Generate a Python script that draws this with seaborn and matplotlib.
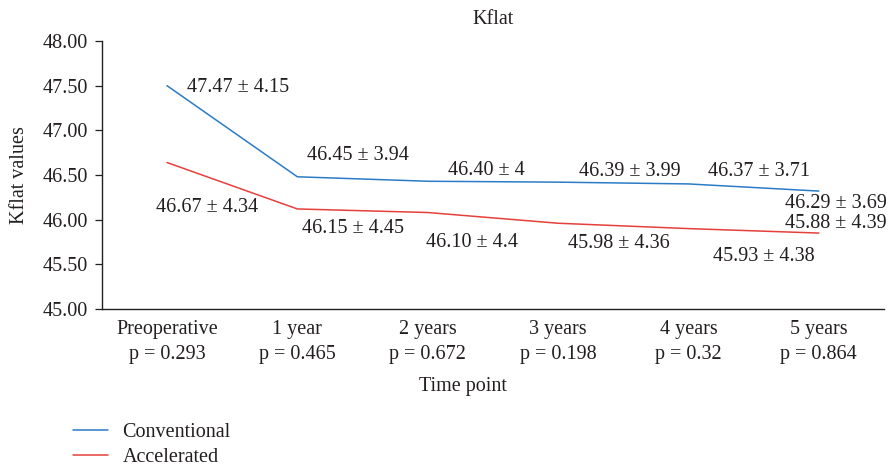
import matplotlib
matplotlib.use("Agg")
import matplotlib.pyplot as plt
import seaborn as sns
import pandas as pd

# ---- data ----
time_points = ["Preoperative", "1 year", "2 years", "3 years", "4 years", "5 years"]
p_values = ["p = 0.293", "p = 0.465", "p = 0.672", "p = 0.198", "p = 0.32", "p = 0.864"]
conventional = [47.50, 46.48, 46.43, 46.42, 46.40, 46.32]
accelerated = [46.64, 46.12, 46.08, 45.96, 45.90, 45.85]
conventional_labels = ["47.47 ± 4.15", "46.45 ± 3.94", "46.40 ± 4", "46.39 ± 3.99",
                       "46.37 ± 3.71", "46.29 ± 3.69"]
accelerated_labels = ["46.67 ± 4.34", "46.15 ± 4.45", "46.10 ± 4.4", "45.98 ± 4.36",
                      "45.93 ± 4.38", "45.88 ± 4.39"]
series_names = ["Conventional", "Accelerated"]
y_ticks = [45.0, 45.5, 46.0, 46.5, 47.0, 47.5, 48.0]

# ---- style ----
sns.set_style("white")
plt.rcParams["font.family"] = ["Liberation Serif", "DejaVu Serif"]
FS = 14.5
colors = {"Conventional": "#2B7BC6", "Accelerated": "#E4403C"}

df = pd.DataFrame({
    "x": list(range(len(time_points))) * 2,
    "value": conventional + accelerated,
    "series": [series_names[0]] * len(conventional) + [series_names[1]] * len(accelerated),
})

fig = plt.figure(figsize=(8.9, 4.68), dpi=100)
ax = fig.add_axes([101.8 / 890, 1 - 309 / 468, (884 - 101.8) / 890, 268 / 468])

sns.lineplot(data=df, x="x", y="value", hue="series", palette=colors, ax=ax,
             linewidth=1.1, legend=False, sort=False)

ax.set_xlim(-0.5, 5.5)
ax.set_ylim(45.0, 48.0)
ax.set_yticks(y_ticks)
ax.set_yticklabels([f"{v:.2f}" for v in y_ticks], fontsize=FS, color="#231f20")
ax.set_xticks(range(len(time_points)))
ax.set_xticklabels([f"{t}\n{p}" for t, p in zip(time_points, p_values)],
                   fontsize=FS, color="#231f20", linespacing=1.42)
ax.tick_params(axis="x", length=0, pad=8)
ax.tick_params(axis="y", length=5, width=0.9, color="#231f20", pad=5, direction="out", left=True)

for s in ["top", "right"]:
    ax.spines[s].set_visible(False)
for s in ["left", "bottom"]:
    ax.spines[s].set_color("#231f20")
    ax.spines[s].set_linewidth(1.0)

ax.set_title("Kflat", fontsize=FS, color="#231f20", pad=12)
ax.set_ylabel("Kflat values", fontsize=FS, color="#231f20")
ax.yaxis.set_label_coords(-0.093, 0.5)
ax.set_xlabel("Time point", fontsize=FS, color="#231f20")
ax.xaxis.set_label_coords(0.462, -0.252)

# annotation offsets in pixels (dx, dy up)
conv_off = [(71, -2), (61, 21), (59, 11), (72, 11), (71, 12), (17, -12)]
acc_off = [(40, -45), (56, -20), (44, -30), (61, -20), (75, -28), (17, 10)]
for i, (v, lab) in enumerate(zip(conventional, conventional_labels)):
    ax.annotate(lab, (i, v), xytext=conv_off[i], textcoords="offset pixels",
                ha="center", va="center", fontsize=FS, color="#231f20",
                annotation_clip=False)
for i, (v, lab) in enumerate(zip(accelerated, accelerated_labels)):
    ax.annotate(lab, (i, v), xytext=acc_off[i], textcoords="offset pixels",
                ha="center", va="center", fontsize=FS, color="#231f20",
                annotation_clip=False)

handles = [plt.Line2D([], [], color=colors[n], linewidth=1.1) for n in series_names]
leg = fig.legend(handles, series_names, loc="center left",
                 bbox_to_anchor=(73 / 890, 1 - 445 / 468), frameon=False,
                 fontsize=FS, borderpad=0, borderaxespad=0, handlelength=1.75,
                 handletextpad=0.7, labelspacing=0.3)
for t in leg.get_texts():
    t.set_color("#231f20")

fig.savefig("out.png", dpi=100)
